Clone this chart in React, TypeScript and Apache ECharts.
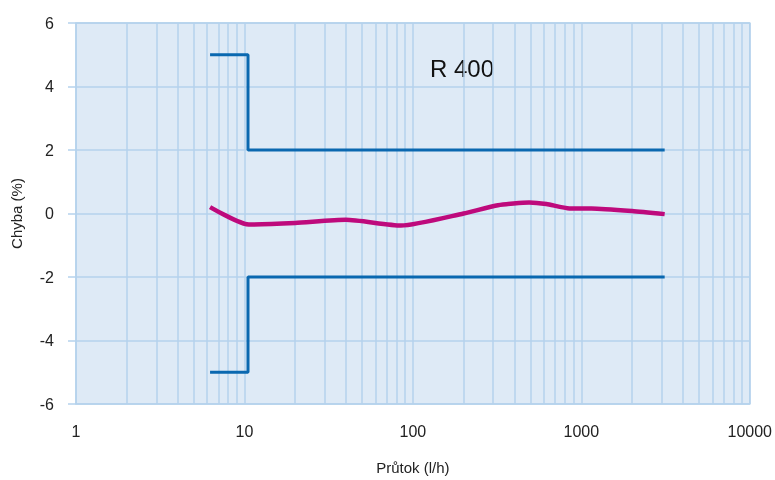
import React, { useEffect, useRef } from "react";
import * as echarts from "echarts";

const yTicks = [-6, -4, -2, 0, 2, 4, 6];
const minorGridX = [2, 3, 4, 5, 6, 7, 8, 9, 20, 30, 40, 50, 60, 70, 80, 90, 200, 300, 400, 500, 600, 700, 800, 900, 2000, 3000, 4000, 5000, 6000, 7000, 8000, 9000];
const upperLimit: [number, number][] = [[6.25, 5], [10.5, 5], [10.5, 2], [3125, 2]];
const lowerLimit: [number, number][] = [[6.25, -5], [10.5, -5], [10.5, -2], [3125, -2]];
const errorCurve: [number, number][] = [
  [6.25, 0.2], [10.6, -0.35], [20, -0.3], [40, -0.2], [85, -0.38], [200, 0.0],
  [320, 0.26], [490, 0.35], [620, 0.3], [850, 0.16], [1150, 0.16], [2000, 0.08], [3125, -0.02],
];
const titleText = "R 400";

const GRID = "#b4d2ec";
const BG = "#deeaf6";

export default function App() {
  const ref = useRef<HTMLDivElement>(null);
  useEffect(() => {
    const chart = echarts.init(ref.current!, null, { renderer: "svg" });
    chart.setOption({
      animation: false,
      textStyle: { fontFamily: "Liberation Sans, Arial, sans-serif" },
      grid: { left: 76, right: 25, top: 23, bottom: 74, show: true, backgroundColor: BG, borderColor: GRID, borderWidth: 1.5 },
      graphic: [
        { type: "text", left: 430, top: 56, style: { text: titleText, fontSize: 24, fill: "#111", fontFamily: "Liberation Sans, Arial, sans-serif" } },
      ],
      xAxis: {
        type: "log", logBase: 10, min: 1, max: 10000,
        name: "Průtok (l/h)", nameLocation: "middle", nameGap: 56,
        nameTextStyle: { fontSize: 15, color: "#222" },
        axisLine: { show: false },
        axisTick: { show: false },
        axisLabel: { fontSize: 16, color: "#222", margin: 19, formatter: (v: number) => String(Math.round(v)) },
        splitLine: { show: true, lineStyle: { color: GRID, width: 1.5 } },
        minorTick: { show: false },
      },
      yAxis: {
        type: "value", min: yTicks[0], max: yTicks[yTicks.length - 1], interval: 2,
        name: "Chyba (%)", nameLocation: "middle", nameGap: 52,
        nameTextStyle: { fontSize: 15, color: "#222" },
        axisLine: { show: false },
        axisTick: { show: true, length: 8, lineStyle: { color: GRID, width: 1.5 } },
        axisLabel: { fontSize: 16, color: "#222", margin: 22 },
        splitLine: { show: true, lineStyle: { color: GRID, width: 1.5 } },
      },
      series: [
        {
          type: "line", data: [[1, 0]], showSymbol: false, lineStyle: { opacity: 0 }, z: 1, silent: true,
          markLine: {
            silent: true, symbol: "none", label: { show: false },
            lineStyle: { color: GRID, width: 1.5, type: "solid" },
            data: minorGridX.map((v) => ({ xAxis: v })),
          },
        },
        { type: "line", data: upperLimit, showSymbol: false, lineStyle: { color: "#0a68b0", width: 3 }, z: 5 },
        { type: "line", data: lowerLimit, showSymbol: false, lineStyle: { color: "#0a68b0", width: 3 }, z: 5 },
        { type: "line", data: errorCurve, smooth: 0.2, showSymbol: false, lineStyle: { color: "#be0a7c", width: 4.5 }, z: 6 },
      ],
    });
    return () => chart.dispose();
  }, []);
  return <div ref={ref} style={{ position: "fixed", left: 0, top: 0, width: 775, height: 480 }} />;
}
